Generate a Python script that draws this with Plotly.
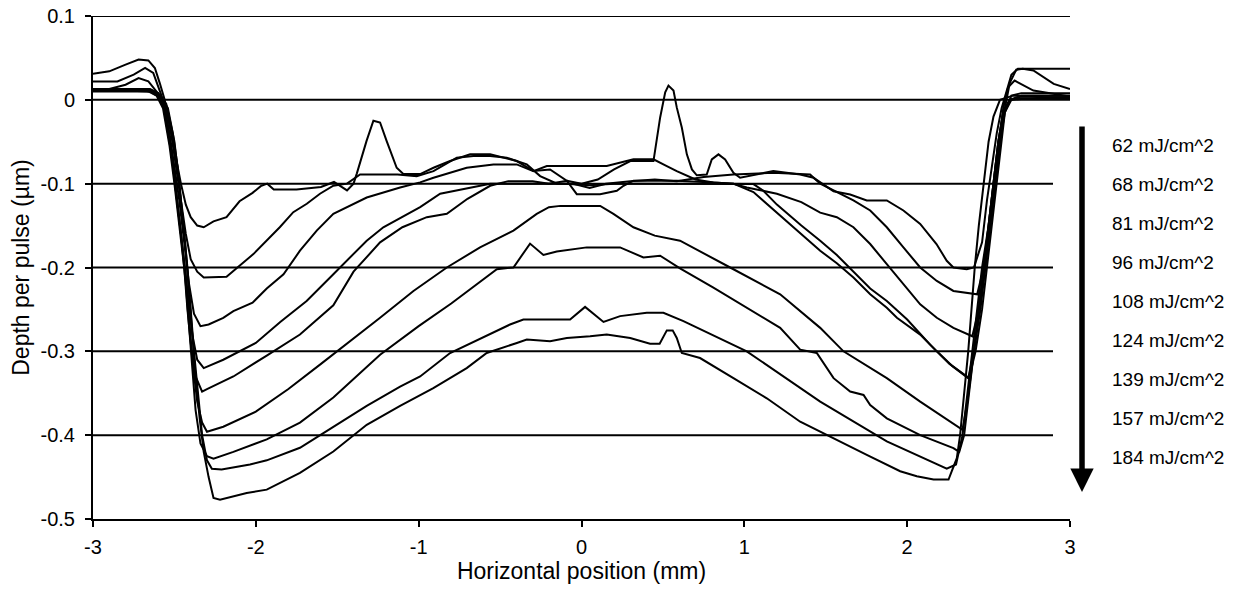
import plotly.graph_objects as go

# ---------------- data ----------------
LABELS = ["62 mJ/cm^2", "68 mJ/cm^2", "81 mJ/cm^2", "96 mJ/cm^2", "108 mJ/cm^2",
          "124 mJ/cm^2", "139 mJ/cm^2", "157 mJ/cm^2", "184 mJ/cm^2"]

X_TICKS = [-3, -2, -1, 0, 1, 2, 3]
X_TICKTEXT = ["-3", "-2", "-1", "0", "1", "2", "3"]
Y_TICKS = [0.1, 0.0, -0.1, -0.2, -0.3, -0.4, -0.5]
Y_TICKTEXT = ["0.1", "0", "-0.1", "-0.2", "-0.3", "-0.4", "-0.5"]

P62 = [(-3, 0.012), (-2.8, 0.012), (-2.68, 0.011), (-2.62, 0.008), (-2.58, 0.002), (-2.55, -0.01),
       (-2.52, -0.04), (-2.49, -0.07), (-2.46, -0.1), (-2.43, -0.125), (-2.40, -0.14), (-2.36, -0.15),
       (-2.32, -0.152), (-2.26, -0.145), (-2.18, -0.14), (-2.10, -0.121), (-2.02, -0.111), (-1.97, -0.103),
       (-1.93, -0.1), (-1.89, -0.107), (-1.75, -0.107), (-1.6, -0.104), (-1.52, -0.098), (-1.44, -0.108),
       (-1.40, -0.1), (-1.38, -0.088), (-1.32, -0.049), (-1.278, -0.025), (-1.237, -0.027), (-1.197, -0.049),
       (-1.135, -0.081), (-1.094, -0.0885), (-0.991, -0.0885), (-0.909, -0.081), (-0.807, -0.073),
       (-0.684, -0.065), (-0.561, -0.065), (-0.398, -0.073), (-0.295, -0.085), (-0.193, -0.083),
       (-0.09, -0.0965), (0.0, -0.1), (0.1, -0.095), (0.2, -0.083), (0.3, -0.073), (0.442, -0.073),
       (0.463, -0.045), (0.483, -0.021), (0.514, 0.009), (0.534, 0.017), (0.565, 0.011), (0.585, -0.009),
       (0.616, -0.033), (0.647, -0.065), (0.678, -0.083), (0.708, -0.09), (0.769, -0.089), (0.8, -0.071),
       (0.841, -0.065), (0.882, -0.071), (0.933, -0.087), (0.974, -0.093), (1.178, -0.085), (1.343, -0.089),
       (1.425, -0.093), (1.548, -0.109), (1.65, -0.113), (1.752, -0.12), (1.875, -0.12), (1.977, -0.132),
       (2.08, -0.148), (2.18, -0.172), (2.243, -0.192), (2.284, -0.2), (2.366, -0.202), (2.41, -0.2),
       (2.46, -0.17), (2.49, -0.12), (2.52, -0.08), (2.55, -0.04), (2.58, -0.01), (2.61, 0.01),
       (2.64, 0.03), (2.68, 0.037), (2.8, 0.037), (3.0, 0.037)]

P68 = [(-3, 0.031), (-2.9, 0.034), (-2.8, 0.042), (-2.72, 0.048), (-2.66, 0.047), (-2.62, 0.038),
       (-2.59, 0.02), (-2.56, 0.0), (-2.52, -0.04), (-2.49, -0.08), (-2.46, -0.12), (-2.43, -0.16),
       (-2.40, -0.19), (-2.36, -0.205), (-2.32, -0.212), (-2.18, -0.211), (-2.015, -0.184), (-1.853, -0.152),
       (-1.77, -0.134), (-1.687, -0.124), (-1.606, -0.112), (-1.524, -0.1025), (-1.44, -0.1), (-1.36, -0.089),
       (-1.13, -0.089), (-1.012, -0.091), (-0.909, -0.085), (-0.766, -0.069), (-0.664, -0.067),
       (-0.561, -0.067), (-0.459, -0.069), (-0.336, -0.077), (-0.254, -0.091), (-0.15, -0.1), (-0.05, -0.1),
       (0.05, -0.105), (0.15, -0.1), (0.3, -0.097), (0.45, -0.095), (0.585, -0.097), (0.75, -0.092),
       (0.933, -0.089), (1.178, -0.087), (1.404, -0.089), (1.466, -0.1), (1.568, -0.11), (1.67, -0.12),
       (1.773, -0.132), (1.875, -0.152), (1.977, -0.176), (2.08, -0.2), (2.182, -0.216), (2.284, -0.228),
       (2.43, -0.232), (2.47, -0.2), (2.51, -0.15), (2.54, -0.1), (2.57, -0.05), (2.6, -0.01), (2.63, 0.02),
       (2.67, 0.036), (2.71, 0.037), (2.775, 0.035), (2.9, 0.019), (3.0, 0.013)]

P81 = [(-3, 0.022), (-2.85, 0.022), (-2.75, 0.03), (-2.68, 0.038), (-2.63, 0.032), (-2.6, 0.015),
       (-2.57, 0.0), (-2.53, -0.04), (-2.5, -0.08), (-2.47, -0.12), (-2.44, -0.17), (-2.41, -0.22),
       (-2.38, -0.255), (-2.34, -0.27), (-2.29, -0.268), (-2.2, -0.26), (-2.138, -0.252), (-2.02, -0.242),
       (-1.933, -0.225), (-1.83, -0.208), (-1.729, -0.18), (-1.626, -0.156), (-1.524, -0.136),
       (-1.319, -0.1165), (-1.114, -0.1045), (-0.991, -0.0985), (-0.909, -0.093), (-0.705, -0.081),
       (-0.541, -0.077), (-0.398, -0.077), (-0.295, -0.085), (-0.213, -0.079), (-0.009, -0.079),
       (0.155, -0.079), (0.319, -0.071), (0.442, -0.071), (0.524, -0.079), (0.585, -0.085), (0.7, -0.095),
       (0.81, -0.0985), (0.933, -0.1), (1.015, -0.1045), (1.2, -0.112), (1.35, -0.122), (1.466, -0.1345),
       (1.568, -0.14), (1.67, -0.152), (1.773, -0.172), (1.875, -0.196), (1.977, -0.22), (2.08, -0.244),
       (2.182, -0.26), (2.284, -0.272), (2.40, -0.282), (2.44, -0.25), (2.48, -0.2), (2.51, -0.15),
       (2.54, -0.1), (2.57, -0.05), (2.59, -0.01), (2.62, 0.015), (2.66, 0.023), (2.775, 0.011),
       (2.9, 0.007), (3.0, 0.004)]

P96 = [(-3, 0.013), (-2.9, 0.013), (-2.8, 0.018), (-2.72, 0.026), (-2.66, 0.022), (-2.61, 0.01),
       (-2.57, -0.005), (-2.53, -0.05), (-2.5, -0.09), (-2.47, -0.14), (-2.44, -0.19), (-2.41, -0.24),
       (-2.39, -0.28), (-2.36, -0.31), (-2.32, -0.32), (-2.2, -0.31), (-2.0, -0.29), (-1.85, -0.265),
       (-1.688, -0.24), (-1.524, -0.208), (-1.319, -0.168), (-1.217, -0.152), (-0.991, -0.128),
       (-0.868, -0.112), (-0.7, -0.105), (-0.561, -0.1), (-0.4, -0.1), (-0.25, -0.1), (-0.1, -0.1),
       (0.05, -0.102), (0.2, -0.1), (0.35, -0.1), (0.5, -0.1), (0.7, -0.1), (0.9, -0.1), (1.056, -0.1005),
       (1.117, -0.1085), (1.2, -0.125), (1.35, -0.15), (1.466, -0.168), (1.568, -0.185), (1.67, -0.205),
       (1.773, -0.225), (1.875, -0.24), (2.0, -0.262), (2.141, -0.292), (2.26, -0.315), (2.38, -0.332),
       (2.42, -0.3), (2.46, -0.25), (2.49, -0.2), (2.52, -0.15), (2.55, -0.1), (2.58, -0.05),
       (2.6, -0.015), (2.64, 0.0), (2.7, 0.004), (2.85, 0.003), (3.0, 0.003)]

P108 = [(-3, 0.011), (-2.8, 0.011), (-2.66, 0.01), (-2.61, 0.005), (-2.57, -0.01), (-2.53, -0.055),
        (-2.5, -0.1), (-2.47, -0.15), (-2.44, -0.2), (-2.42, -0.25), (-2.40, -0.29), (-2.37, -0.33),
        (-2.33, -0.348), (-2.3, -0.345), (-2.138, -0.33), (-1.933, -0.305), (-1.729, -0.28), (-1.524, -0.245),
        (-1.4, -0.205), (-1.237, -0.17), (-1.1, -0.152), (-0.95, -0.14), (-0.827, -0.136), (-0.7, -0.118),
        (-0.561, -0.1025), (-0.45, -0.097), (-0.3, -0.097), (-0.2, -0.1), (-0.09, -0.0965),
        (-0.029, -0.1125), (0.114, -0.1125), (0.217, -0.1085), (0.258, -0.1025), (0.319, -0.0965),
        (0.585, -0.0965), (0.81, -0.0985), (0.933, -0.1), (1.056, -0.11), (1.2, -0.135), (1.35, -0.16),
        (1.466, -0.18), (1.568, -0.195), (1.67, -0.212), (1.773, -0.232), (1.875, -0.248), (1.937, -0.26),
        (2.08, -0.28), (2.182, -0.3), (2.28, -0.318), (2.375, -0.332), (2.41, -0.3), (2.45, -0.25),
        (2.48, -0.2), (2.51, -0.15), (2.54, -0.1), (2.57, -0.05), (2.6, -0.015), (2.64, 0.005),
        (2.7, 0.008), (3.0, 0.008)]

P124 = [(-3, 0.012), (-2.8, 0.012), (-2.65, 0.011), (-2.6, 0.005), (-2.56, -0.01), (-2.52, -0.06),
        (-2.49, -0.11), (-2.46, -0.16), (-2.43, -0.21), (-2.41, -0.26), (-2.39, -0.31), (-2.36, -0.36),
        (-2.33, -0.385), (-2.3, -0.396), (-2.2, -0.39), (-2.0, -0.372), (-1.8, -0.345), (-1.6, -0.315),
        (-1.4, -0.285), (-1.237, -0.26), (-1.032, -0.228), (-0.827, -0.2), (-0.623, -0.176),
        (-0.418, -0.156), (-0.275, -0.136), (-0.2, -0.128), (-0.13, -0.1265), (0.115, -0.1265),
        (0.196, -0.136), (0.319, -0.152), (0.45, -0.162), (0.605, -0.168), (0.913, -0.2), (1.22, -0.232),
        (1.466, -0.272), (1.609, -0.3), (1.875, -0.332), (2.08, -0.36), (2.34, -0.3935), (2.37, -0.36),
        (2.41, -0.3), (2.44, -0.25), (2.47, -0.2), (2.5, -0.15), (2.53, -0.1), (2.56, -0.05),
        (2.59, -0.015), (2.63, 0.0), (2.7, 0.002), (3.0, 0.002)]

P139 = [(-3, 0.01), (-2.65, 0.01), (-2.6, 0.004), (-2.56, -0.01), (-2.52, -0.06), (-2.49, -0.11),
        (-2.46, -0.16), (-2.43, -0.22), (-2.41, -0.27), (-2.39, -0.32), (-2.37, -0.37), (-2.34, -0.41),
        (-2.3, -0.425), (-2.26, -0.428), (-2.138, -0.42), (-1.933, -0.405), (-1.729, -0.385),
        (-1.524, -0.355), (-1.237, -0.304), (-1.0, -0.27), (-0.8, -0.243), (-0.52, -0.202), (-0.418, -0.2),
        (-0.316, -0.1715), (-0.234, -0.185), (-0.152, -0.181), (-0.05, -0.178), (0.032, -0.176),
        (0.237, -0.176), (0.38, -0.188), (0.483, -0.186), (0.605, -0.201), (0.81, -0.224), (1.015, -0.248),
        (1.22, -0.272), (1.343, -0.298), (1.445, -0.302), (1.548, -0.332), (1.65, -0.348), (1.732, -0.352),
        (1.773, -0.364), (1.875, -0.38), (2.08, -0.4), (2.284, -0.4155), (2.32, -0.42), (2.35, -0.4),
        (2.38, -0.35), (2.41, -0.3), (2.44, -0.25), (2.47, -0.2), (2.5, -0.15), (2.53, -0.1),
        (2.56, -0.05), (2.59, -0.015), (2.63, 0.0), (2.7, 0.005), (3.0, 0.005)]

P157 = [(-3, 0.012), (-2.65, 0.012), (-2.6, 0.008), (-2.54, -0.01), (-2.5, -0.05), (-2.47, -0.1),
        (-2.445, -0.15), (-2.42, -0.2), (-2.40, -0.25), (-2.38, -0.3), (-2.355, -0.35), (-2.33, -0.4),
        (-2.3, -0.43), (-2.27, -0.44), (-2.21, -0.441), (-2.036, -0.435), (-1.933, -0.43), (-1.729, -0.415),
        (-1.524, -0.39), (-1.319, -0.365), (-1.114, -0.342), (-0.991, -0.33), (-0.807, -0.302),
        (-0.439, -0.268), (-0.357, -0.262), (-0.07, -0.262), (0.022, -0.247), (0.135, -0.265),
        (0.237, -0.258), (0.401, -0.254), (0.503, -0.254), (0.626, -0.264), (1.015, -0.3), (1.466, -0.36),
        (1.875, -0.4075), (2.243, -0.44), (2.3, -0.435), (2.34, -0.4), (2.37, -0.35), (2.4, -0.3),
        (2.43, -0.25), (2.46, -0.2), (2.5, -0.15), (2.53, -0.1), (2.56, -0.05), (2.59, -0.015),
        (2.63, 0.0), (2.7, 0.001), (3.0, 0.001)]

P184 = [(-3, 0.013), (-2.65, 0.013), (-2.6, 0.008), (-2.55, -0.005), (-2.51, -0.04), (-2.48, -0.08),
        (-2.455, -0.13), (-2.43, -0.18), (-2.41, -0.23), (-2.39, -0.28), (-2.37, -0.33), (-2.345, -0.38),
        (-2.32, -0.42), (-2.29, -0.45), (-2.26, -0.475), (-2.22, -0.477), (-2.056, -0.469), (-1.933, -0.465),
        (-1.729, -0.445), (-1.524, -0.4195), (-1.319, -0.3876), (-1.114, -0.365), (-0.91, -0.344),
        (-0.705, -0.32), (-0.582, -0.302), (-0.397, -0.29), (-0.336, -0.286), (-0.193, -0.288),
        (-0.09, -0.284), (0.053, -0.282), (0.155, -0.28), (0.299, -0.284), (0.421, -0.291), (0.48, -0.291),
        (0.524, -0.275), (0.56, -0.275), (0.585, -0.284), (0.616, -0.302), (0.728, -0.308), (0.933, -0.332),
        (1.138, -0.356), (1.343, -0.384), (1.466, -0.3956), (1.547, -0.404), (1.752, -0.4235),
        (1.957, -0.443), (2.059, -0.449), (2.162, -0.453), (2.254, -0.453), (2.274, -0.443),
        (2.305, -0.4275), (2.325, -0.4), (2.35, -0.35), (2.375, -0.3), (2.395, -0.25), (2.415, -0.2),
        (2.44, -0.15), (2.47, -0.1), (2.5, -0.05), (2.53, -0.02), (2.57, 0.0), (2.65, 0.005), (3.0, 0.005)]

SERIES = [P62, P68, P81, P96, P108, P124, P139, P157, P184]

# ---------------- figure ----------------
FONT = "Liberation Sans, Arial, sans-serif"
fig = go.Figure()
for name, pts in zip(LABELS, SERIES):
    fig.add_trace(go.Scatter(
        x=[p[0] for p in pts], y=[p[1] for p in pts], mode="lines", name=name,
        line=dict(color="black", width=2), showlegend=False, hoverinfo="skip"))

fig.update_layout(
    width=1238, height=589,
    margin=dict(l=93, r=168, t=16, b=70),
    paper_bgcolor="white", plot_bgcolor="white",
    font=dict(family=FONT, color="black"),
)
fig.update_xaxes(
    range=[-3, 3], tickvals=X_TICKS, ticktext=X_TICKTEXT, automargin=False,
    showgrid=False, zeroline=False, showline=True, linecolor="black", linewidth=2,
    ticks="outside", ticklen=6, tickwidth=2, tickcolor="black",
    tickfont=dict(size=20), ticklabelstandoff=3, ticklabeloverflow="allow",
    title=dict(text="Horizontal position (mm)", font=dict(size=23), standoff=6),
)
fig.update_yaxes(
    range=[-0.5, 0.1], tickvals=Y_TICKS, ticktext=Y_TICKTEXT, automargin=False,
    showgrid=False, zeroline=False,
    showline=True, linecolor="black", linewidth=2,
    ticks="outside", ticklen=6, tickwidth=2, tickcolor="black",
    tickfont=dict(size=20), ticklabelstandoff=6, ticklabeloverflow="allow",
    title=dict(text="Depth per pulse (µm)", font=dict(size=23), standoff=4),
)

# horizontal gridlines (the top two run the full width, the rest stop short
# of the right edge, as in the reference)
plot_top, plot_bottom, plot_left, plot_w = 16, 519, 93, 977
for yv in Y_TICKS[:-1]:
    x_end = 1.0 if yv >= 0 else (1053 - plot_left) / plot_w
    fig.add_shape(type="line", xref="paper", yref="y", x0=0, x1=x_end, y0=yv, y1=yv,
                  line=dict(color="black", width=2), layer="below")

# fluence labels on the right (positions relative to the plot area)
label_px = [145 + 39 * i for i in range(len(LABELS))]
for lab, py in zip(LABELS, label_px):
    fig.add_annotation(xref="paper", yref="paper", x=(1110 - plot_left) / plot_w,
                       y=(plot_bottom - py) / (plot_bottom - plot_top),
                       text=lab, showarrow=False, xanchor="left", yanchor="middle",
                       font=dict(size=19, family=FONT, color="black"))

# big downward arrow
fig.add_annotation(xref="paper", yref="paper", x=(1082 - plot_left) / plot_w,
                   y=(plot_bottom - 492) / (plot_bottom - plot_top),
                   ax=0, ay=-367, text="", showarrow=True,
                   arrowhead=2, arrowsize=0.85, arrowwidth=5.5, arrowcolor="black", standoff=0)

# remove the page's default 8 px body margin so the figure fills the window
fig.write_html("out.html", config={"displayModeBar": False},
               post_script="document.body.style.margin='0px';")
